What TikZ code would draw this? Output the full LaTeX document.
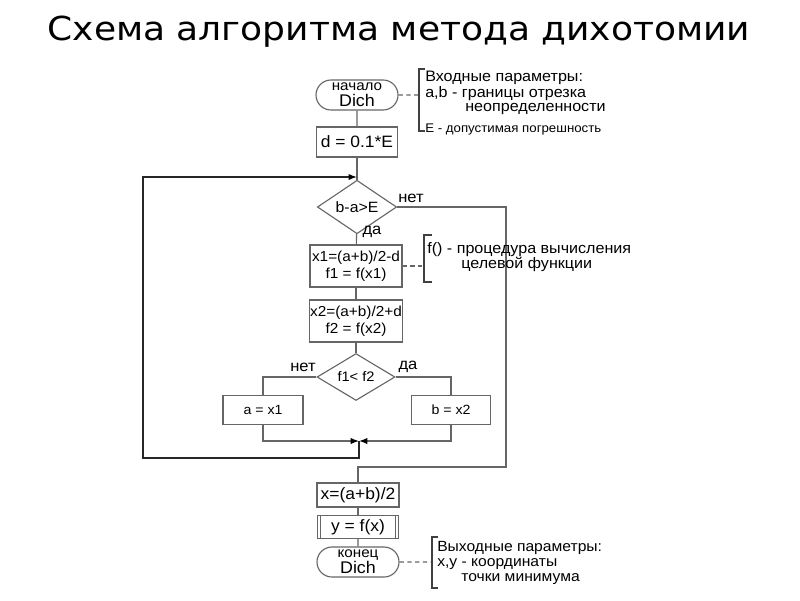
\documentclass[tikz,border=0pt]{standalone}
\usepackage{fontspec}
\setmainfont{Liberation Sans}[FakeStretch=1.06]
\newfontfamily\titlefont{DejaVu Sans}[FakeStretch=1.09]
\usetikzlibrary{shapes.geometric,shapes.misc,arrows.meta}

\begin{document}
\begin{tikzpicture}[x=0.025cm, y=-0.025cm,
    line/.style={draw=black!60, line width=0.8pt},
    block/.style={line, rectangle, inner sep=0pt, align=center, font=\fontsize{11.7}{13}\selectfont},
    term/.style={line, rounded rectangle, inner sep=0pt, align=center, minimum width=2.05cm, minimum height=0.75cm},
    decision/.style={line, diamond, inner sep=0pt, minimum width=1.98cm, minimum height=1.17cm, font=\fontsize{10.6}{12}\selectfont},
    note/.style={align=left, anchor=north west, inner sep=0pt, font=\fontsize{10.8}{11}\selectfont},
    bracket/.style={draw=black!75, line width=0.9pt},
    lbl/.style={inner sep=0pt, font=\fontsize{11.1}{12}\selectfont},
    loopline/.style={draw=black!85, line width=1pt},
    >={Latex[length=6pt,width=4.5pt,black]}]
\useasboundingbox (0,0) rectangle (800,600);

\node[font=\titlefont\fontsize{23.5}{26}\selectfont, anchor=base] (title) at (399,40.5) {Схема алгоритма метода дихотомии};

% main column
\node[term] (start) at (357,95) {{\fontsize{10.2}{10}\selectfont начало}\\[-0.5pt]{\fontsize{12}{12}\selectfont Dich}};
\node[block, minimum width=2.03cm, minimum height=0.75cm] (init) at (357,142) {d = 0.1*E};
\node[decision] (cond) at (357,207) {b-a>E};
\node[block, minimum width=2.3cm, minimum height=1.05cm, font=\fontsize{10.3}{12}\selectfont] (calcA) at (356,266) {x1=(a+b)/2-d\\f1 = f(x1)};
\node[block, minimum width=2.33cm, minimum height=1.05cm, font=\fontsize{10.3}{12}\selectfont] (calcB) at (356,321) {x2=(a+b)/2+d\\f2 = f(x2)};
\node[decision, minimum width=1.95cm, font=\fontsize{9.8}{11}\selectfont] (cmp) at (356,377) {f1< f2};
\node[block, minimum width=2cm, minimum height=0.73cm, font=\fontsize{9.5}{11}\selectfont] (setA) at (263,410) {a = x1};
\node[block, minimum width=1.98cm, minimum height=0.73cm, font=\fontsize{9.5}{11}\selectfont] (setB) at (451,410) {b = x2};
\coordinate (join) at (359,441);
\node[block, minimum width=2.05cm, minimum height=0.6cm] (mid) at (358,495) {x=(a+b)/2};
\node[block, minimum width=2.03cm, minimum height=0.58cm] (out) at (358,527) {y = f(x)};
\node[term, minimum height=0.75cm] (stop) at (358,562) {{\fontsize{10.2}{10}\selectfont конец}\\[-0.5pt]{\fontsize{12}{12}\selectfont Dich}};
\draw[line] ([xshift=0.1cm]out.north west) -- ([xshift=0.1cm]out.south west);
\draw[line] ([xshift=-0.1cm]out.north east) -- ([xshift=-0.1cm]out.south east);

% connectors
\draw[line] (start) -- (init);
\draw[line] (init) -- (cond);
\draw[line] (cond) -- (calcA);
\draw[line] (calcA) -- (calcB);
\draw[line] (calcB) -- (cmp);
\draw[line] (cmp.west) -| (setA.north);
\draw[line] (cmp.east) -| (setB.north);
\draw[line,->] (setA.south) |- (join);
\draw[line,->] (setB.south) |- (join);
\coordinate (loopBL) at (143,458);
\coordinate (loopIn) at (357,177);
\draw[loopline,->] (join) |- (loopBL) |- (loopIn);
\coordinate (exitR) at (506,467);
\draw[line] (cond.east) -| (exitR) -| (mid.north);
\draw[line] (mid) -- (out);
\draw[line] (out) -- (stop);

\node[lbl] (condNo) at (411,198) {нет};
\node[lbl] (condYes) at (372,232) {да};
\node[lbl] (cmpNo) at (303,367) {нет};
\node[lbl] (cmpYes) at (408,367) {да};

% notes
\coordinate (inB) at (419,95);
\draw[line, dashed, dash pattern=on 3pt off 2.5pt] (start) -- (inB);
\draw[bracket] (425,69) -- (419,69) -- (419,131) -- (425,131);
\node[note] (inNote) at (425,71) {Входные параметры:\\
  a,b - границы отрезка\\[-1pt]
  \hspace*{1cm}неопределенности\\[4pt]
  {\fontsize{8.9}{9}\selectfont E - допустимая погрешность}};

\coordinate (fB) at (424,266);
\draw[line, dashed, dash pattern=on 3pt off 2.5pt] (calcA) -- (fB);
\draw[bracket] (432,235) -- (424,235) -- (424,282) -- (432,282);
\node[note] (fNote) at (427,242) {f() - процедура вычисления\\
  \hspace*{0.85cm}целевой функции};

\coordinate (outB) at (432,562);
\draw[line, dashed, dash pattern=on 3pt off 2.5pt] (stop) -- (outB);
\draw[bracket] (438,537) -- (432,537) -- (432,588) -- (438,588);
\node[note, font=\fontsize{10.5}{10.6}\selectfont] (outNote) at (437,541) {Выходные параметры:\\
  x,y - координаты\\
  \hspace*{0.6cm}точки минимума};
\end{tikzpicture}
\end{document}
